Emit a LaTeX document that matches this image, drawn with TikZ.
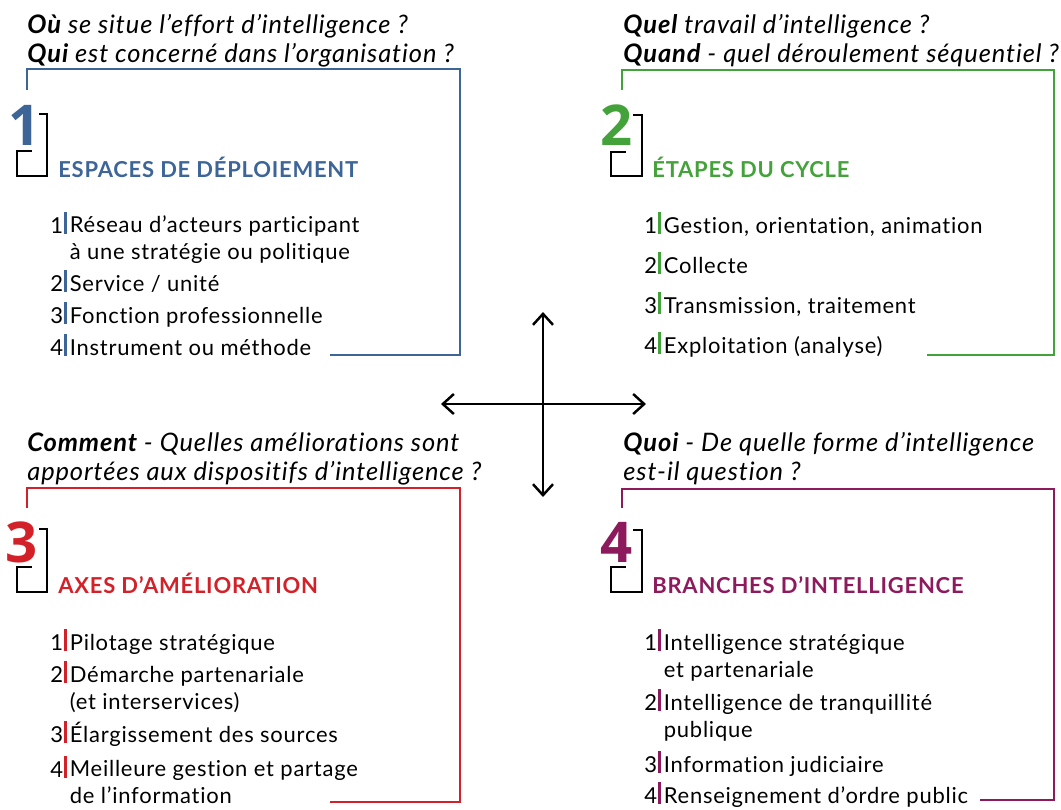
\documentclass[tikz,border=0pt]{standalone}
\usepackage{fontspec}
\setmainfont{Lato}[Ligatures=NoCommon]
\newfontfamily\espace{Lato}[LetterSpace=3.5,Ligatures=NoCommon]
\newfontfamily\grand{Open Sans}
\usetikzlibrary{arrows.meta}

\definecolor{bleu}{RGB}{61,101,152}
\definecolor{vert}{RGB}{68,162,58}
\definecolor{rouge}{RGB}{210,33,40}
\definecolor{prune}{RGB}{140,26,92}

% chiffre + barre de couleur devant chaque point
\newcommand{\puce}[2]{#2\hspace{0.6pt}\textcolor{#1}{\rule[-0.1ex]{1.4pt}{1.95ex}}}

\begin{document}
\begin{tikzpicture}[x=0.02cm, y=-0.02cm,
    question/.style={anchor=base west, inner sep=0, align=left, font=\espace\fontsize{14.5}{16}\selectfont\itshape},
    titre/.style={anchor=base west, inner sep=0, font=\espace\fontsize{12.5}{15}\selectfont\bfseries},
    chiffre/.style={anchor=base west, inner sep=0, font=\grand\fontsize{32}{32}\selectfont\bfseries},
    item/.style={anchor=base west, inner sep=0, align=left, font=\espace\fontsize{12.5}{15}\selectfont},
    num/.style={anchor=base east, inner sep=0, font=\espace\fontsize{12.5}{15}\selectfont},
    cadre/.style={line width=1.3pt},
    crochet/.style={line width=0.6pt},
    axe/.style={line width=1.4pt, {Straight Barb[length=2.2mm,width=4mm]}-{Straight Barb[length=2.2mm,width=4mm]}}
  ]
  \useasboundingbox (0,0) rectangle (1061,809);

  % 1 -- espaces (les noeuds sur deux lignes sont places sur la derniere ligne)
  \node[question] (q1) at (27,62) {\textbf{Où} se situe l’effort d’intelligence ?\\\textbf{Qui} est concerné dans l’organisation ?};
  \draw[cadre,bleu] (27,90) |- (460,69) |- (330,355);
  \node[chiffre,bleu] (n1) at (8,145) {1};
  \draw[crochet] (39,114) -| (47,176) -| (17,151) -- (32,151);
  \node[titre,bleu] (t1) at (58,177) {ESPACES DE DÉPLOIEMENT};
  \node[num] at (67,233) {\puce{bleu}{1}};
  \node[item] (a1) at (69.5,259) {Réseau d’acteurs participant\\à une stratégie ou politique};
  \node[num] at (67,291) {\puce{bleu}{2}};
  \node[item] (a2) at (69.5,291) {Service / unité};
  \node[num] at (67,323) {\puce{bleu}{3}};
  \node[item] (a3) at (69.5,323) {Fonction professionnelle};
  \node[num] at (67,355) {\puce{bleu}{4}};
  \node[item] (a4) at (69.5,355) {Instrument ou méthode};

  % 2 -- etapes
  \node[question] (q2) at (623,62) {\textbf{Quel} travail d’intelligence ?\\\textbf{Quand} - quel déroulement séquentiel ?};
  \draw[cadre,vert] (622,90) |- (1054,70) |- (927,355);
  \node[chiffre,vert] (n2) at (600,145) {2};
  \draw[crochet] (633,115) -| (642,176) -| (611,152) -- (626,152);
  \node[titre,vert] (t2) at (652,177) {ÉTAPES DU CYCLE};
  \node[num] at (661,233) {\puce{vert}{1}};
  \node[item] (b1) at (663.5,233) {Gestion, orientation, animation};
  \node[num] at (661,273) {\puce{vert}{2}};
  \node[item] (b2) at (663.5,273) {Collecte};
  \node[num] at (661,313) {\puce{vert}{3}};
  \node[item] (b3) at (663.5,313) {Transmission, traitement};
  \node[num] at (661,353) {\puce{vert}{4}};
  \node[item] (b4) at (663.5,353) {Exploitation (analyse)};

  % 3 -- axes
  \node[question] (q3) at (27,480) {\textbf{Comment} - Quelles améliorations sont\\apportées aux dispositifs d’intelligence ?};
  \draw[cadre,rouge] (27,508) |- (460,488) |- (330,802);
  \node[chiffre,rouge] (n3) at (5,562) {3};
  \draw[crochet] (39,529) -| (47,592) -| (17,567) -- (32,567);
  \node[titre,rouge] (t3) at (58,593) {AXES D’AMÉLIORATION};
  \node[num] at (67,650) {\puce{rouge}{1}};
  \node[item] (c1) at (69.5,650) {Pilotage stratégique};
  \node[num] at (67,682) {\puce{rouge}{2}};
  \node[item] (c2) at (69.5,709) {Démarche partenariale\\(et interservices)};
  \node[num] at (67,742) {\puce{rouge}{3}};
  \node[item] (c3) at (69.5,742) {Élargissement des sources};
  \node[num] at (67,777) {\puce{rouge}{4}};
  \node[item] (c4) at (69.5,803) {Meilleure gestion et partage\\de l’information};

  % 4 -- branches
  \node[question] (q4) at (623,480) {\textbf{Quoi} - De quelle forme d’intelligence\\est-il question ?};
  \draw[cadre,prune] (622,508) |- (1054,489) |- (980,800);
  \node[chiffre,prune] (n4) at (600,562) {4};
  \draw[crochet] (633,530) -| (642,592) -| (611,567) -- (626,567);
  \node[titre,prune] (t4) at (652,593) {BRANCHES D’INTELLIGENCE};
  \node[num] at (661,650) {\puce{prune}{1}};
  \node[item] (d1) at (663.5,677) {Intelligence stratégique\\et partenariale};
  \node[num] at (661,710) {\puce{prune}{2}};
  \node[item] (d2) at (663.5,737) {Intelligence de tranquillité\\publique};
  \node[num] at (661,772) {\puce{prune}{3}};
  \node[item] (d3) at (663.5,772) {Information judiciaire};
  \node[num] at (661,803) {\puce{prune}{4}};
  \node[item] (d4) at (663.5,803) {Renseignement d’ordre public};

  % croix centrale
  \coordinate (gauche) at (441,404);
  \coordinate (droite) at (646,404);
  \coordinate (haut) at (543,312);
  \coordinate (bas) at (543,497);
  \draw[axe] (gauche) -- (droite);
  \draw[axe] (haut) -- (bas);
\end{tikzpicture}
\end{document}
